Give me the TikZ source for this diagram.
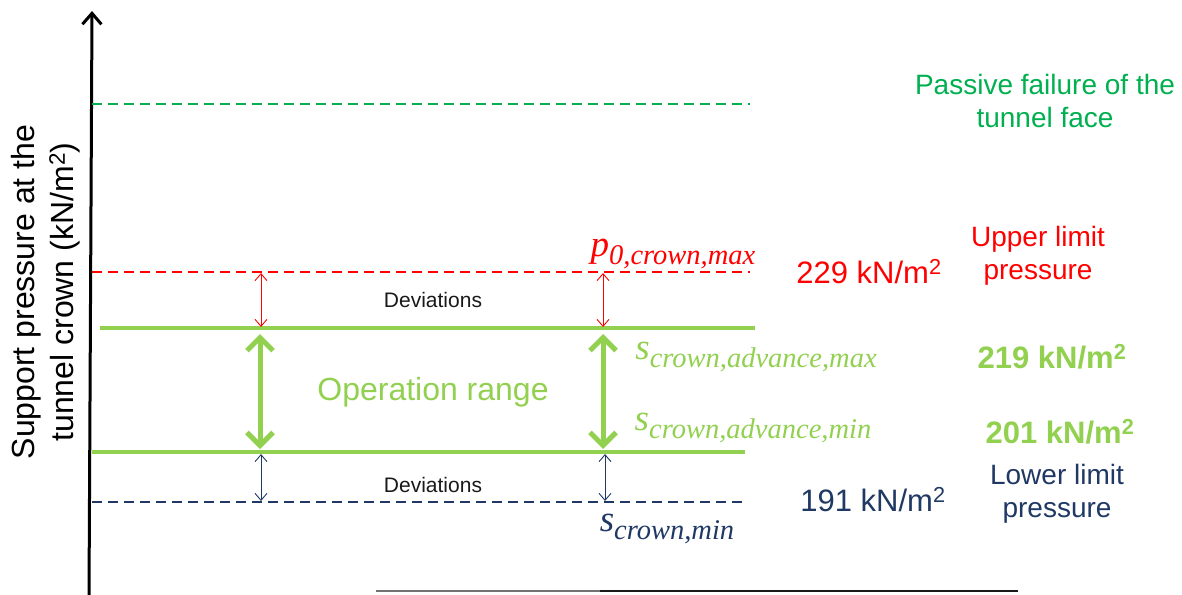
\documentclass[tikz,border=0pt]{standalone}
\usepackage{fontspec}
\setmainfont{Liberation Sans}
\newfontfamily\symfont[ItalicFont=Liberation Serif Italic]{Liberation Serif}
\usetikzlibrary{arrows.meta}
\definecolor{pgreen}{HTML}{00B050}
\definecolor{lgreen}{HTML}{92D050}
\definecolor{navy}{HTML}{203864}
\definecolor{ured}{HTML}{FF0000}
\newcommand{\symlbl}[2]{{\symfont\itshape\fontsize{37}{40}\selectfont #1}\raisebox{-7.5pt}{\symfont\itshape\fontsize{28.5}{30}\selectfont #2}}
\begin{document}
\begin{tikzpicture}[x=1pt,y=-1pt,
  limitline/.style={line width=2.3pt, dash pattern=on 10pt off 6pt},
  rangeline/.style={line width=4pt, lgreen},
  devarrow/.style={line width=0.9pt, {Straight Barb[length=7pt,width=12pt]}-{Straight Barb[length=7pt,width=12pt]}},
  oparrow/.style={line width=5pt, lgreen, {Straight Barb[length=13pt,width=26pt]}-{Straight Barb[length=13pt,width=26pt]}},
  txt/.style={inner sep=0pt, align=center, font=\fontsize{28}{33}\selectfont},
  val/.style={inner sep=0pt, font=\fontsize{31}{36}\selectfont},
  small/.style={inner sep=0pt, font=\fontsize{21}{24}\selectfont, text=black!90},
  mathlbl/.style={inner sep=0pt}
]
\useasboundingbox (0,0) rectangle (1182,594);
% axes
\coordinate (axb) at (89,596);
\coordinate (axt) at (92,11);
\draw[line width=3pt, -{Straight Barb[length=11pt,width=19pt]}] (axb) -- (axt);
\coordinate (xa) at (376,591);
\coordinate (xm) at (600,591);
\coordinate (xb) at (1018,591);
\draw[line width=2.5pt, black!55] (xa) -- (xm);
\draw[line width=2.5pt, black!90] (xm) -- (xb);
% limit lines
\coordinate (g1) at (92,104); \coordinate (g2) at (750,104);
\draw[limitline, pgreen] (g1) -- (g2);
\coordinate (r1) at (92,272); \coordinate (r2) at (750,272);
\draw[limitline, ured] (r1) -- (r2);
\coordinate (u1) at (100,328); \coordinate (u2) at (755,328);
\draw[rangeline] (u1) -- (u2);
\coordinate (l1) at (92,452); \coordinate (l2) at (745,452);
\draw[rangeline] (l1) -- (l2);
\coordinate (n1) at (92,502); \coordinate (n2) at (748,502);
\draw[limitline, navy] (n1) -- (n2);
% arrows left
\coordinate (ra1) at (261,273); \coordinate (ra2) at (261,327);
\draw[devarrow, ured] (ra1) -- (ra2);
\coordinate (ga1) at (260,334); \coordinate (ga2) at (260,449);
\draw[oparrow] (ga1) -- (ga2);
\coordinate (na1) at (261,454); \coordinate (na2) at (261,501);
\draw[devarrow, navy] (na1) -- (na2);
% arrows right
\coordinate (rb1) at (603,273); \coordinate (rb2) at (603,327);
\draw[devarrow, ured] (rb1) -- (rb2);
\coordinate (gb1) at (603,334); \coordinate (gb2) at (603,449);
\draw[oparrow] (gb1) -- (gb2);
\coordinate (nb1) at (605,454); \coordinate (nb2) at (605,501);
\draw[devarrow, navy] (nb1) -- (nb2);
% texts
\node[small] (dev1) at (433,300) {Deviations};
\node[small] (dev2) at (433,485) {Deviations};
\node[txt, text=lgreen, font=\fontsize{32}{36}\selectfont] (oprange) at (433,392) {Operation range};
\node[mathlbl, text=ured] (pmax) at (673,254) {\symlbl{p}{0,crown,max}};
\node[val, text=ured] (v229) at (869,272) {229 kN/m\textsuperscript{2}};
\node[txt, text=ured] (upper) at (1038,256) {Upper limit\\pressure};
\node[txt, text=pgreen] (passive) at (1045,101) {Passive failure of the\\tunnel face};
\node[mathlbl, text=lgreen] (samax) at (756,357) {\symlbl{s}{crown,advance,max}};
\node[val, text=lgreen, font=\bfseries\fontsize{31}{36}\selectfont] (v219) at (1052,357) {219 kN/m\textsuperscript{2}};
\node[mathlbl, text=lgreen] (samin) at (753,428) {\symlbl{s}{crown,advance,min}};
\node[val, text=lgreen, font=\bfseries\fontsize{31}{36}\selectfont] (v201) at (1060,432) {201 kN/m\textsuperscript{2}};
\node[val, text=navy] (v191) at (873,500) {191 kN/m\textsuperscript{2}};
\node[txt, text=navy] (lower) at (1057,494) {Lower limit\\pressure};
\node[mathlbl, text=navy] (scmin) at (667,529) {\symlbl{s}{crown,min}};
\node[txt, rotate=90, font=\fontsize{32}{39}\selectfont] (ylabel) at (46,292) {Support pressure at the\\tunnel crown (kN/m\textsuperscript{2})};
\end{tikzpicture}
\end{document}
